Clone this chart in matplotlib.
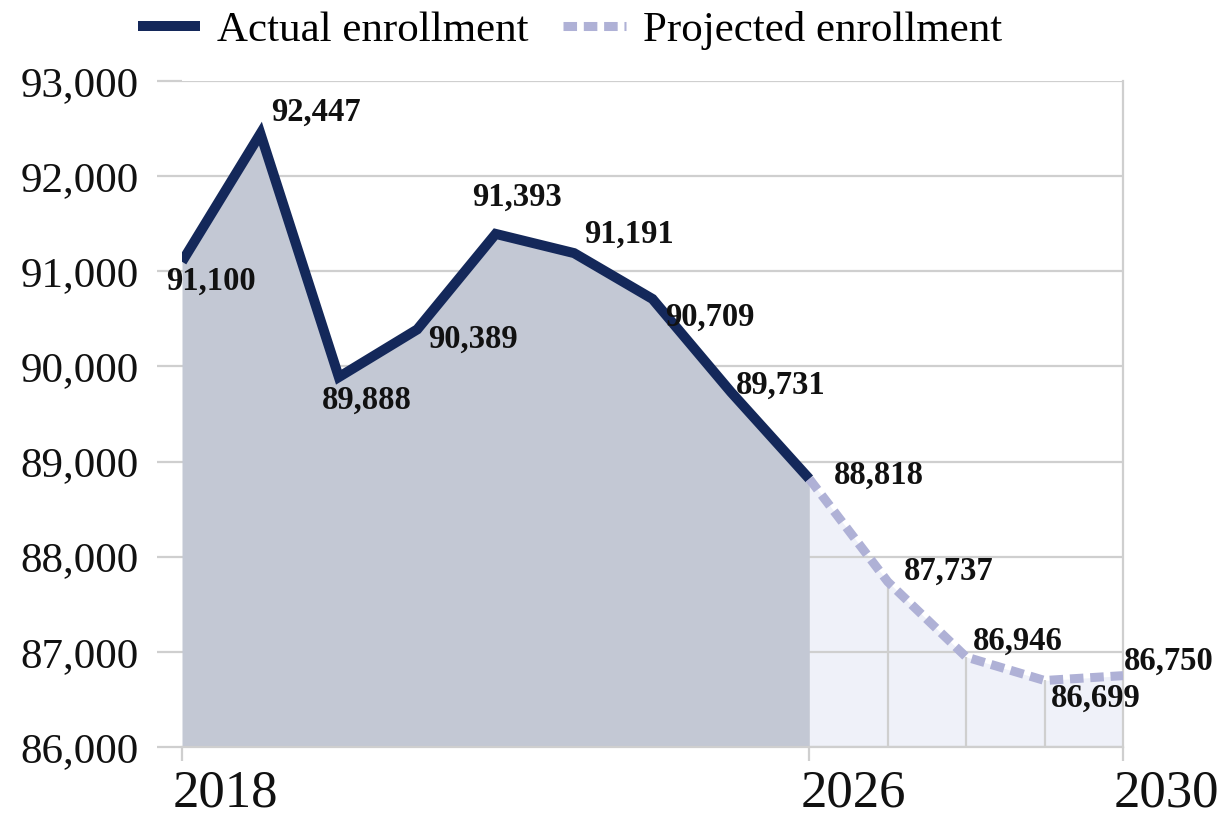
import matplotlib
matplotlib.use("Agg")
import matplotlib.pyplot as plt
from matplotlib.transforms import ScaledTranslation

# ---- data ----
actual_years = [2018, 2019, 2020, 2021, 2022, 2023, 2024, 2025, 2026]
actual_values = [91100, 92447, 89888, 90389, 91393, 91191, 90709, 89731, 88818]
proj_years = [2026, 2027, 2028, 2029, 2030]
proj_values = [88818, 87737, 86946, 86699, 86750]
y_ticks = [86000, 87000, 88000, 89000, 90000, 91000, 92000, 93000]
x_ticks = [2018, 2026, 2030]
series_names = ["Actual enrollment", "Projected enrollment"]

# label offsets in pixels (dx, dy) for each labelled point
label_offsets = [(29, -19), (56, 21), (28, -23), (56, -10), (21, 37), (55, 19),
                 (57, -18), (50, 7), (70, 4), (61, 10), (52, 16), (51, -18), (46, 14)]

NAVY = "#14285a"
LAV = "#afb1d6"
DARK_FILL = "#c3c8d4"
LIGHT_FILL = "#eff1f9"
GRID = "#cfcfcf"

plt.rcParams["font.family"] = ["Liberation Serif", "DejaVu Serif"]

fig = plt.figure(figsize=(12.22, 8.16), dpi=100)
ax = fig.add_axes([182 / 1222, 1 - 747 / 816, (1123 - 182) / 1222, (747 - 81) / 816])

ax.set_xlim(2018, 2030)
ax.set_ylim(86000, 93000)

# fills
ax.fill_between(proj_years, proj_values, 86000, color=LIGHT_FILL, zorder=0.5, lw=0)
ax.fill_between(actual_years, actual_values, 86000, color=DARK_FILL, zorder=1.5, lw=0)

# gridlines
for yv in y_ticks:
    ax.axhline(yv, color=GRID, lw=1.6, zorder=1)
# drop lines in projected region
ax.vlines(proj_years[1:-1], 86000, proj_values[1:-1], color=GRID, lw=1.6, zorder=1)

# lines
ax.plot(actual_years, actual_values, color=NAVY, lw=7.2, solid_joinstyle="miter",
        solid_capstyle="butt", zorder=3, label=series_names[0])
ax.plot(proj_years, proj_values, color=LAV, lw=6.5, linestyle=(0, (1.5, 0.75)),
        dash_capstyle="butt", zorder=3, label=series_names[1])

# data labels
all_years = actual_years + proj_years[1:]
all_vals = actual_values + proj_values[1:]
for (yr, v), (dx, dy) in zip(zip(all_years, all_vals), label_offsets):
    ax.annotate(f"{v:,}", (yr, v), xytext=(dx, dy), textcoords="offset pixels",
                ha="center", va="center", fontsize=23.5, fontweight="bold",
                color="#111111", zorder=4)

# spines
for s in ["top", "left"]:
    ax.spines[s].set_visible(False)
ax.spines["right"].set_color(GRID)
ax.spines["right"].set_linewidth(1.6)
ax.spines["bottom"].set_color(GRID)
ax.spines["bottom"].set_linewidth(1.6)

# ticks
ax.set_yticks(y_ticks)
ax.set_yticklabels([f"{t:,}" for t in y_ticks])
ax.tick_params(axis="y", length=18, width=1.6, color=GRID, pad=13, labelsize=31,
               labelcolor="#111111")
ax.set_xticks(x_ticks)
ax.set_xticklabels([str(t) for t in x_ticks])
ax.tick_params(axis="x", length=10, width=1.6, color=GRID, pad=6, labelsize=38,
               labelcolor="#111111")
for lbl in ax.get_xticklabels():
    lbl.set_horizontalalignment("left")
    lbl.set_transform(lbl.get_transform() + ScaledTranslation(-9 / 100, 0, fig.dpi_scale_trans))

leg = fig.legend(loc="center", bbox_to_anchor=(570 / 1222, 1 - 30 / 816), ncol=2,
                 frameon=False, fontsize=31, handlelength=1.45, handletextpad=0.4,
                 columnspacing=0.8, borderpad=0)

fig.savefig("out.png", dpi=100, facecolor="white")
